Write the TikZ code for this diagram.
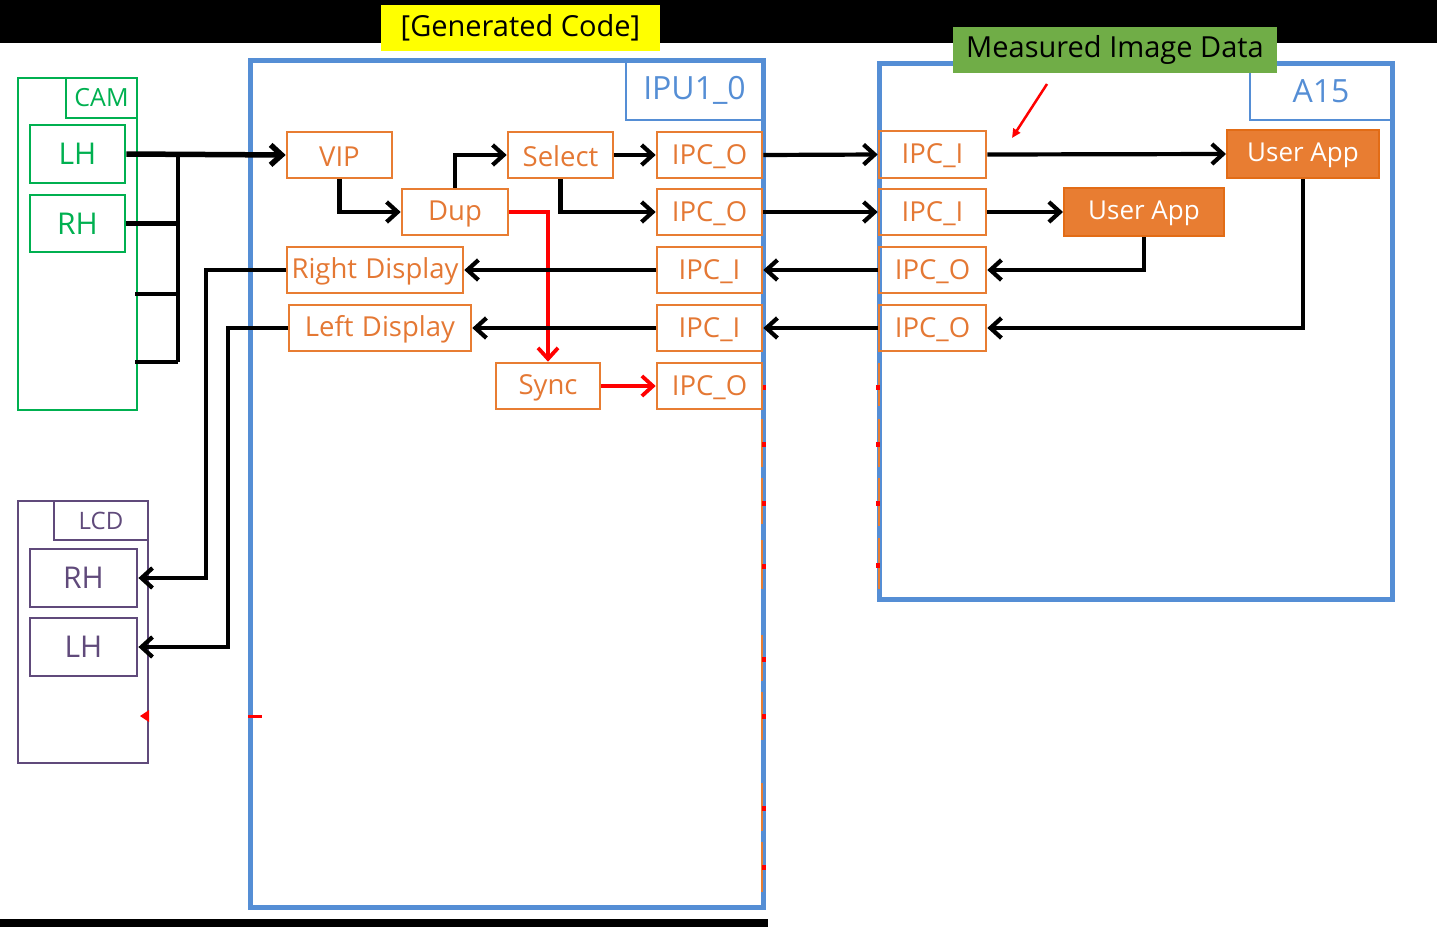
\documentclass[tikz,border=0pt]{standalone}
\usepackage{fontspec}
\setmainfont{Open Sans}
\usetikzlibrary{arrows.meta,fit}
\definecolor{blu}{RGB}{85,142,213}
\definecolor{grn}{RGB}{0,176,80}
\definecolor{pur}{RGB}{96,74,123}
\definecolor{orb}{RGB}{232,125,50}
\definecolor{ort}{RGB}{228,120,52}
\definecolor{ordk}{RGB}{226,108,22}
\definecolor{ylw}{RGB}{255,255,0}
\definecolor{lgrn}{RGB}{112,173,71}
\definecolor{rd}{RGB}{255,0,0}
\newcommand\mybxfont{\fontsize{27.5}{32}\selectfont}
\tikzset{
  obox/.style={draw=orb, line width=2.6pt, inner sep=0pt},
  otxt/.style={text=ort, inner sep=0pt, font=\mybxfont, yshift=-1.5pt},
  fobox/.style={fill=orb, draw=ordk, line width=2pt, inner sep=0pt},
  ftxt/.style={text=white, inner sep=0pt, font=\fontsize{26}{30}\selectfont, yshift=-1.5pt},
  bigblue/.style={draw=blu, line width=5pt, inner sep=0pt},
  bluelab/.style={draw=blu, line width=2.5pt, inner sep=0pt},
  btxt/.style={text=blu, inner sep=0pt, font=\fontsize{32}{36}\selectfont},
  gbox/.style={draw=grn, line width=2.8pt, inner sep=0pt},
  gtxt/.style={text=grn, inner sep=0pt, font=\fontsize{30}{34}\selectfont},
  pbox/.style={draw=pur, line width=2.8pt, inner sep=0pt},
  ptxt/.style={text=pur, inner sep=0pt, font=\fontsize{30}{34}\selectfont},
  conn/.style={draw=black, line width=4.2pt, -{Straight Barb[length=11pt,width=20pt]}},
  wire/.style={draw=black, line width=4.2pt},
  rconn/.style={draw=rd, line width=3.8pt, -{Straight Barb[length=11pt,width=20pt]}},
  ghost/.style={draw=orb, line width=2pt},
  gdot/.style={fill=rd, inner sep=0pt, minimum width=4pt, minimum height=5pt},
  tag/.style={inner sep=0pt},
  tagtxt/.style={text=black, inner sep=0pt, font=\fontsize{29}{33}\selectfont},
}
\begin{document}
\begin{tikzpicture}[x=1pt,y=-1pt]
\useasboundingbox (0,0) rectangle (1437,927);
% black bands
\fill[black] (0,0) rectangle (1437,43);
\fill[black] (0,919) rectangle (768,927);

% big containers
\node[bigblue, fit={(250,60)(763,907)}] (ipu) {};
\node[bigblue, fit={(879,63)(1392,599)}] (a15) {};
\node[bluelab, fit={(626,60)(763,120)}, label={[btxt]center:IPU1\_0}] (ipulab) {};
\node[bluelab, fit={(1250,63)(1392,120)}, label={[btxt]center:A15}] (a15lab) {};

% CAM
\node[gbox, fit={(18,78)(137,410)}] (cam) {};
\node[gbox, fit={(66,78)(137,118)}, label={[gtxt, font=\fontsize{25}{28}\selectfont]center:CAM}] (camlab) {};
\node[gbox, fit={(30,125)(125,183)}, label={[gtxt]center:LH}] (cLH) {};
\node[gbox, fit={(30,195)(125,252)}, label={[gtxt]center:RH}] (cRH) {};

% LCD
\node[pbox, fit={(18,501)(148,763)}] (lcd) {};
\node[pbox, fit={(54,501)(148,540)}, label={[ptxt, font=\fontsize{24}{28}\selectfont]center:LCD}] (lcdlab) {};
\node[pbox, fit={(30,549)(137,607)}, label={[ptxt]center:RH}] (lRH) {};
\node[pbox, fit={(30,618)(137,676)}, label={[ptxt]center:LH}] (lLH) {};

% ghost box edges (IPU right edge)
\foreach \a/\b in {419/467,478/524,540/589,635/681,692/740,783/831,842/892}
  \draw[ghost] (762,\a) -- (762,\b);
\foreach \y in {387,444,503,566,659,716,808,867}
  \node[gdot] at (764,\y) {};
% ghost box edges (A15 left edge)
\foreach \a/\b in {363/406,419/467,478/526,538/589}
  \draw[ghost] (879,\a) -- (879,\b);
\foreach \y in {387,444,503,565}
  \node[gdot] at (878,\y) {};

% IPU1_0 blocks
\node[obox, fit={(287,132)(392,178)}, label={[otxt]center:VIP}] (vip) {};
\node[obox, fit={(402,189)(508,235)}, label={[otxt]center:Dup}] (dup) {};
\node[obox, fit={(508,132)(613,178)}, label={[otxt]center:Select}] (sel) {};
\node[obox, fit={(657,132)(762,178)}, label={[otxt]center:IPC\_O}] (po1) {};
\node[obox, fit={(657,189)(762,235)}, label={[otxt]center:IPC\_O}] (po2) {};
\node[obox, fit={(287,247)(463,293)}, label={[otxt]center:Right\hspace{0.3em}Display}] (rdisp) {};
\node[obox, fit={(657,247)(762,293)}, label={[otxt]center:IPC\_I}] (pi3) {};
\node[obox, fit={(289,305)(471,351)}, label={[otxt]center:Left\hspace{0.3em}Display}] (ldisp) {};
\node[obox, fit={(657,305)(762,351)}, label={[otxt]center:IPC\_I}] (pi4) {};
\node[obox, fit={(496,363)(600,409)}, label={[otxt]center:Sync}] (sync) {};
\node[obox, fit={(657,363)(762,409)}, label={[otxt]center:IPC\_O}] (po5) {};

% A15 blocks
\node[obox, fit={(879,131)(986,178)}, label={[otxt]center:IPC\_I}] (ai1) {};
\node[obox, fit={(879,189)(986,235)}, label={[otxt]center:IPC\_I}] (ai2) {};
\node[obox, fit={(879,247)(986,293)}, label={[otxt]center:IPC\_O}] (ao3) {};
\node[obox, fit={(879,305)(986,351)}, label={[otxt]center:IPC\_O}] (ao4) {};
\node[fobox, fit={(1227,130)(1379,178)}, label={[ftxt]center:User App}] (ua1) {};
\node[fobox, fit={(1064,188)(1224,236)}, label={[ftxt]center:User App}] (ua2) {};

% camera bus
\coordinate (busT) at (178,155);
\coordinate (busB) at (178,362);
\coordinate (c3) at (135,294);
\coordinate (c4) at (135,362);
\draw[wire] (busT) -- (busB);
\draw[wire] (cRH.east) -- (cRH.east -| busT);
\draw[wire] (c3) -- (c3 -| busT);
\draw[wire] (c4) -- (busB);
\draw[conn, line width=5.5pt] (cLH.east) -- (vip.west);

% IPU internal
\draw[conn] (vip.south) |- (dup.west);
\draw[conn] (dup.north) |- (sel.west);
\draw[conn] (sel.east) -- (po1.west);
\draw[conn] (sel.south) |- (po2.west);
\draw[rconn] (dup.east) -| (sync.north);
\draw[rconn] (sync.east) -- (po5.west);
\draw[conn] (pi3.west) -- (rdisp.east);
\draw[conn] (pi4.west) -- (ldisp.east);

% to LCD
\coordinate (xr) at (206,0);
\coordinate (xl) at (228,0);
\draw[conn] (rdisp.west) -- (rdisp.west -| xr) |- (lRH.east);
\draw[conn] (ldisp.west) -- (ldisp.west -| xl) |- (lLH.east);

% between cores
\draw[conn] (po1.east) -- (ai1.west);
\draw[conn] (po2.east) -- (ai2.west);
\draw[conn] (ao3.west) -- (pi3.east);
\draw[conn] (ao4.west) -- (pi4.east);

% A15 internal
\draw[conn] (ai1.east) -- (ua1.west);
\draw[conn] (ai2.east) -- (ua2.west);
\draw[conn] (ua2.south) |- (ao3.east);
\draw[conn] (ua1.south) |- (ao4.east);

% red artefacts
\fill[rd] (140,716) -- (149,710) -- (149,722) -- cycle;
\draw[rd, line width=3pt] (248,716) -- (262,716);

% labels
\node[tag, fill=ylw, fit={(381,5)(660,51)}, label={[tagtxt]center:[Generated Code]}] (gen) {};
\node[tag, fill=lgrn, fit={(953,27)(1277,73)}, label={[tagtxt]center:Measured Image Data}] (meas) {};
\coordinate (mt) at (1047,84);
\coordinate (mh) at (1012,138);
\draw[rd, line width=2.5pt, -{Triangle[length=9pt,width=8pt]}] (mt) -- (mh);
\end{tikzpicture}
\end{document}
